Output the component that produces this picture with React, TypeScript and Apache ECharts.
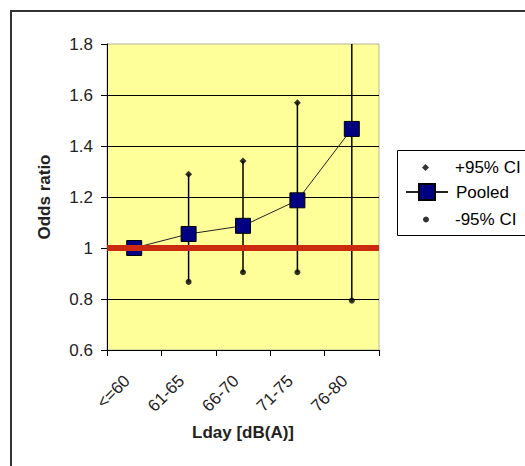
import React, { useEffect, useRef } from "react";
import * as echarts from "echarts";

const categories = ["<=60", "61-65", "66-70", "71-75", "76-80"];
const pooled = [1.0, 1.055, 1.087, 1.187, 1.467];
const upperCI = [1.0, 1.289, 1.341, 1.57, 1.86];
const lowerCI = [1.0, 0.867, 0.905, 0.905, 0.794];
const referenceValue = 1;
const yMin = 0.6;
const yMax = 1.8;
const yInterval = 0.2;

const FONT = "Liberation Sans";

export default function App() {
  const ref = useRef<HTMLDivElement>(null);
  useEffect(() => {
    document.body.style.margin = "0";
    const chart = echarts.init(ref.current!, undefined, { renderer: "svg" });
    const legendCommon = {
      orient: "vertical",
      padding: 0,
      itemGap: 0,
      selectedMode: false,
      symbolKeepAspect: true,
      z: 5,
    };
    const txt = (pad: number) => ({
      fontFamily: FONT,
      fontSize: 17,
      color: "#000",
      padding: [0, 0, 0, pad],
    });
    const gridColors = ["#000", "#000", "#000", "#000", "#000", "#000", "rgba(0,0,0,0)"];
    chart.setOption({
      animation: false,
      backgroundColor: "#fff",
      textStyle: { fontFamily: FONT },
      grid: {
        left: 107,
        top: 44,
        width: 272,
        height: 306,
        show: true,
        backgroundColor: "#FFFF99",
        borderColor: "#b4b49a",
        borderWidth: 1,
      },
      graphic: [
        {
          type: "rect",
          z: 1,
          shape: { x: 11, y: 11, width: 540, height: 480 },
          style: { fill: "none", stroke: "#333", lineWidth: 2 },
        },
        {
          type: "rect",
          z: 1,
          shape: { x: 397.5, y: 150.5, width: 150, height: 85 },
          style: { fill: "#fff", stroke: "#000", lineWidth: 1 },
        },
      ],
      legend: [
        { ...legendCommon, data: ["+95% CI"], left: 422, top: 159, itemWidth: 7, itemHeight: 7, textStyle: txt(21) },
        { ...legendCommon, data: ["Pooled"], left: 405, top: 183, itemWidth: 42, itemHeight: 20, textStyle: txt(3) },
        { ...legendCommon, data: ["-95% CI"], left: 423, top: 211, itemWidth: 6, itemHeight: 6, textStyle: txt(21) },
      ],
      xAxis: {
        type: "category",
        data: categories,
        boundaryGap: true,
        name: "Lday [dB(A)]",
        nameLocation: "middle",
        nameGap: 74,
        nameTextStyle: { fontFamily: FONT, fontSize: 17, fontWeight: "bold", color: "#222" },
        axisLine: { lineStyle: { color: "#000", width: 1 } },
        axisTick: { show: true, length: 6, lineStyle: { color: "#000" } },
        axisLabel: {
          rotate: 45,
          margin: 21,
          fontFamily: FONT,
          fontSize: 17,
          color: "#222",
          padding: [0, 10, 0, 0],
        },
        splitLine: { show: false },
      },
      yAxis: {
        type: "value",
        min: yMin,
        max: yMax,
        interval: yInterval,
        name: "Odds ratio",
        nameLocation: "middle",
        nameGap: 54,
        nameTextStyle: { fontFamily: FONT, fontSize: 17, fontWeight: "bold", color: "#222" },
        axisLine: { show: true, lineStyle: { color: "#000", width: 1 } },
        axisTick: { show: true, length: 6, lineStyle: { color: "#000" } },
        axisLabel: { margin: 14, fontFamily: FONT, fontSize: 17, color: "#222" },
        splitLine: { show: true, lineStyle: { color: gridColors, width: 1 } },
      },
      series: [
        {
          name: "errbar",
          type: "custom",
          z: 2,
          clip: true,
          data: categories.map((_, i) => [i, lowerCI[i], upperCI[i]]),
          encode: { x: 0, y: [1, 2] },
          renderItem: (params: any, api: any) => {
            const idx = api.value(0);
            const lo = api.coord([idx, api.value(1)]);
            const hi = api.coord([idx, api.value(2)]);
            const cs = params.coordSys;
            const top = Math.max(hi[1], cs.y);
            const bottom = Math.min(lo[1], cs.y + cs.height);
            return {
              type: "line",
              shape: { x1: lo[0], y1: bottom, x2: hi[0], y2: top },
              style: { stroke: "#000", lineWidth: 1.5 },
            };
          },
        },
        {
          name: "+95% CI",
          type: "scatter",
          z: 3,
          symbol: "diamond",
          symbolSize: 7,
          itemStyle: { color: "#000" },
          data: upperCI,
        },
        {
          name: "-95% CI",
          type: "scatter",
          z: 3,
          symbol: "circle",
          symbolSize: 6,
          itemStyle: { color: "#000" },
          data: lowerCI,
        },
        {
          name: "Pooled",
          type: "line",
          z: 4,
          symbol: "rect",
          symbolSize: 15,
          itemStyle: { color: "#000080", borderColor: "#000", borderWidth: 1 },
          lineStyle: { color: "#222", width: 1 },
          data: pooled,
        },
        {
          name: "reference",
          type: "custom",
          z: 20,
          silent: true,
          data: [[0, referenceValue]],
          encode: { x: 0, y: 1 },
          renderItem: (params: any, api: any) => {
            const p = api.coord([api.value(0), api.value(1)]);
            const cs = params.coordSys;
            return {
              type: "line",
              z2: 100,
              shape: { x1: cs.x, y1: p[1], x2: cs.x + cs.width, y2: p[1] },
              style: { stroke: "#cc2a0e", lineWidth: 6 },
            };
          },
        },
      ],
    });
    return () => chart.dispose();
  }, []);
  return <div ref={ref} style={{ width: 525, height: 466 }} />;
}
